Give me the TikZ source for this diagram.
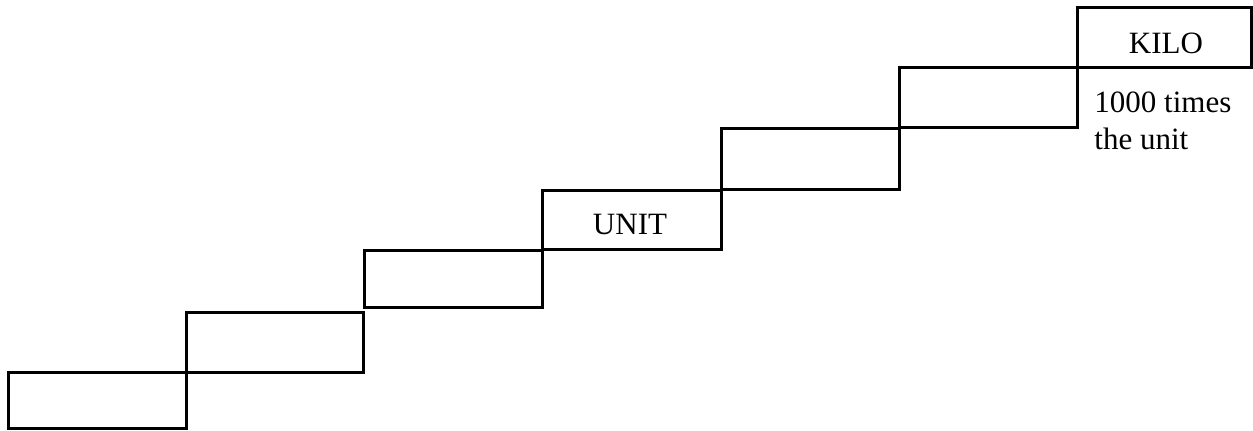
\documentclass[tikz,border=0pt]{standalone}
\usepackage{fontspec}
\setmainfont{Liberation Serif}
\tikzset{
  stepbox/.style={draw=black, line width=1.5pt, rectangle, inner sep=0pt, outer sep=0pt},
  caption/.style={font=\fontsize{15.5}{18.5}\selectfont, inner sep=0pt}
}
\begin{document}
\begin{tikzpicture}[x=0.5pt, y=-0.5pt]
  \useasboundingbox (0,0) rectangle (1253,431);
  % the staircase of steps, lowest to highest
  \node[stepbox, minimum width=89pt,   minimum height=28pt]   (s1) at (97,401) {};
  \node[stepbox, minimum width=88.5pt, minimum height=30pt]   (s2) at (274.5,343) {};
  \node[stepbox, minimum width=89pt,   minimum height=28.5pt] (s3) at (453,279.5) {};
  \node[stepbox, minimum width=89.5pt, minimum height=29.5pt] (s4) at (631.5,220.5) {};
  \node[stepbox, minimum width=89pt,   minimum height=30.5pt] (s5) at (810,159.5) {};
  \node[stepbox, minimum width=89pt,   minimum height=30pt]   (s6) at (988,98) {};
  \node[stepbox, minimum width=87.25pt,minimum height=30pt]   (s7) at (1164.25,38) {};
  % labels
  \node[caption, anchor=base] (unit) at (630,235) {UNIT};
  \node[caption, anchor=base] (kilo) at (1166,53.3) {KILO};
  \node[caption, anchor=base west, align=left] (note) at (1094,150) {1000 times\\the unit};
\end{tikzpicture}
\end{document}
